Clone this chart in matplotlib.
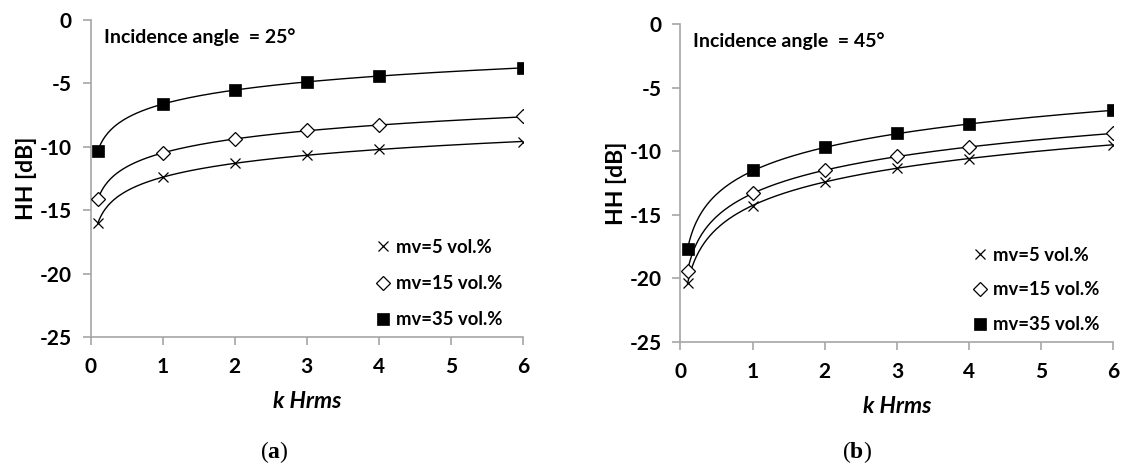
import matplotlib
matplotlib.use("Agg")
import matplotlib.pyplot as plt
import numpy as np

plt.rcParams['font.family'] = ['Lato', 'DejaVu Sans']
plt.rcParams['axes.unicode_minus'] = False
plt.rcParams['mathtext.fontset'] = 'custom'
plt.rcParams['mathtext.rm'] = 'Liberation Serif'
plt.rcParams['mathtext.bf'] = 'Liberation Serif:bold'

# k*Hrms roughness values
khrms = [0.1, 1, 2, 3, 4, 6]

# HH backscatter [dB], incidence angle 25 deg
hh25_mv5 = [-16.0, -12.4, -11.3, -10.6, -10.2, -9.6]
hh25_mv15 = [-14.1, -10.5, -9.4, -8.7, -8.3, -7.6]
hh25_mv35 = [-10.3, -6.6, -5.5, -4.9, -4.4, -3.8]

# HH backscatter [dB], incidence angle 45 deg
hh45_mv5 = [-20.4, -14.3, -12.4, -11.3, -10.6, -9.5]
hh45_mv15 = [-19.4, -13.3, -11.5, -10.4, -9.7, -8.6]
hh45_mv35 = [-17.7, -11.5, -9.7, -8.6, -7.9, -6.8]

labels = ['mv=5 vol.%', 'mv=15 vol.%', 'mv=35 vol.%']
angles = [25, 45]
captions = ['a', 'b']

GREY = '#a6a6a6'


def drawPanel(ax, series, angle, legpos, lspace):
    xs = np.array(khrms)
    xfine = np.linspace(xs.min(), xs.max(), 300)
    styles = [dict(marker='x', ms=7, mfc='none', mec='black', mew=0.9),
              dict(marker='D', ms=7, mfc='white', mec='black', mew=0.9),
              dict(marker='s', ms=8, mfc='black', mec='black', mew=0.5)]
    handles = []
    for ys, st, lab in zip(series, styles, labels):
        # logarithmic trendline through each series
        a, b = np.polyfit(np.log(xs), np.array(ys), 1)
        ax.plot(xfine, a * np.log(xfine) + b, color='black', lw=1.0, zorder=2)
        h, = ax.plot(xs, ys, ls='none', zorder=3, label=lab, **st)
        handles.append(h)

    ax.set_xlim(0, 6)
    ax.set_ylim(-25, 0)
    ax.set_xticks(range(0, 7))
    ax.set_yticks(range(-25, 1, 5))
    for s in ['top', 'right']:
        ax.spines[s].set_visible(False)
    for s in ['left', 'bottom']:
        ax.spines[s].set_color(GREY)
        ax.spines[s].set_linewidth(1.2)
    ax.tick_params(direction='out', length=5.5, width=1.2, color=GREY,
                   labelsize=15)
    ax.tick_params(axis='y', pad=8)
    ax.tick_params(axis='x', pad=9)
    for t in ax.get_xticklabels() + ax.get_yticklabels():
        t.set_fontweight('bold')
    ax.set_xlabel('k Hrms', fontsize=16.5, fontweight='bold', style='italic', labelpad=10)
    ax.set_ylabel('HH [dB]', fontsize=16.5, fontweight='bold', labelpad=2)
    ax.text(0.03, 0.945, 'Incidence angle  = %d°' % angle, transform=ax.transAxes,
            fontsize=14, fontweight='bold', va='center', ha='left')
    ax.legend(handles=handles, loc='upper left', bbox_to_anchor=legpos,
              frameon=False, handlelength=0.7, handletextpad=0.35,
              labelspacing=lspace, borderpad=0,
              prop={'size': 13.3, 'weight': 'bold'})


fig = plt.figure(figsize=(11.21, 4.65), dpi=100)
axA = fig.add_axes([0.0809, 0.2746, 0.3856, 0.6824])
axB = fig.add_axes([0.6069, 0.2645, 0.3864, 0.6839])

drawPanel(axA, [hh25_mv5, hh25_mv15, hh25_mv35], angles[0], (0.64, 0.34), 1.05)
drawPanel(axB, [hh45_mv5, hh45_mv15, hh45_mv35], angles[1], (0.656, 0.328), 0.95)

fig.text(274 / 1121, 1 - 452 / 465, r'($\mathbf{%s}$)' % captions[0],
         fontsize=17, family='Liberation Serif', ha='center', va='center')
fig.text(857 / 1121, 1 - 452 / 465, r'($\mathbf{%s}$)' % captions[1],
         fontsize=17, family='Liberation Serif', ha='center', va='center')

fig.savefig('out.png', dpi=100)
